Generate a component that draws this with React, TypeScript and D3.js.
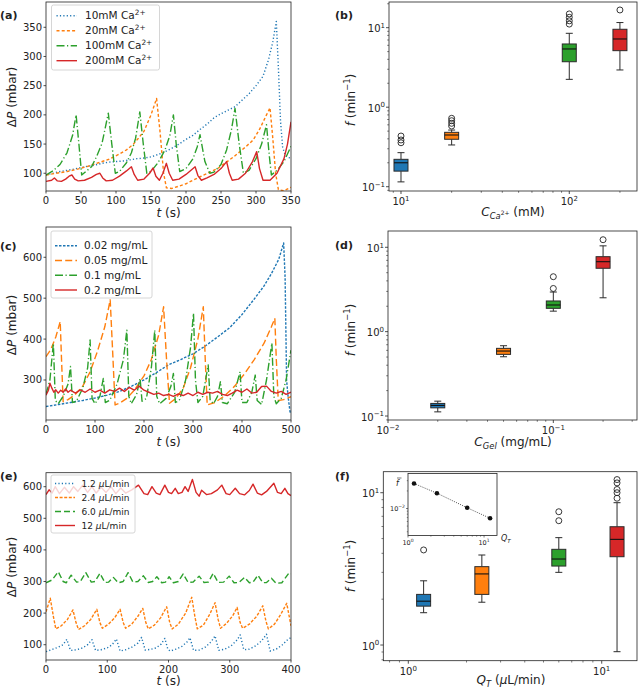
import React from 'react';
import * as d3 from 'd3';

type P = [number, number];
type Seg = { t: string; i?: boolean; sup?: boolean; sub?: boolean; ss?: boolean };

const COLORS = ['#1f77b4', '#ff7f0e', '#2ca02c', '#d62728'];
const FONT = 'DejaVu Sans, Verdana, sans-serif';
const INK = '#222';

// ---------- Panel (a): pressure vs time, Ca2+ concentration ----------
const aLabels = ['10mM', '20mM', '100mM', '200mM'];
const aTicksX = [0, 50, 100, 150, 200, 250, 300, 350];
const aTicksY = [100, 150, 200, 250, 300, 350];
const a10: P[] = [[0,97],[10,100],[20,103],[30,105],[40,107],[50,110],[60,112],[70,114],[80,117],[90,119],[100,120],[110,121],[120,123],[130,125],[140,126],[150,128],[160,132],[170,137],[180,143],[190,150],[200,158],[210,165],[220,175],[230,184],[240,195],[250,202],[260,208],[270,214],[280,225],[290,236],[300,250],[310,266],[318,295],[324,325],[329,360],[332,280],[335,190],[338,145],[342,130],[346,127],[350,126]];
const a20: P[] = [[0,97],[15,100],[30,103],[45,107],[60,112],[75,118],[90,124],[105,133],[115,140],[125,150],[132,160],[140,172],[150,200],[158,228],[163,170],[168,100],[172,75],[180,74],[200,82],[220,94],[245,108],[268,128],[285,145],[296,157],[305,175],[315,200],[320,212],[324,160],[328,100],[332,72],[340,70],[350,76]];
const a100: P[] = [[0,97],[10,104],[20,115],[30,135],[38,165],[43,200],[47,150],[51,97],[57,103],[65,111],[72,128],[80,151],[84,174],[89,203],[94,150],[99,100],[105,103],[115,118],[122,135],[128,160],[134,205],[139,150],[144,100],[150,103],[160,118],[170,140],[177,165],[182,200],[186,150],[191,103],[200,108],[210,125],[216,145],[220,166],[227,120],[234,100],[240,102],[250,115],[258,140],[265,175],[270,211],[276,150],[282,100],[290,105],[300,125],[308,150],[315,183],[319,130],[322,97],[330,105],[340,120],[350,146]];
const a200: P[] = [[0,86],[8,88],[12,92],[16,87],[22,86],[28,90],[33,95],[37,97],[41,90],[46,87],[55,88],[65,93],[72,98],[77,100],[81,92],[86,87],[95,88],[105,95],[115,104],[122,111],[126,98],[131,88],[140,90],[148,100],[153,109],[157,95],[162,88],[167,100],[172,117],[176,100],[181,88],[190,90],[200,98],[208,106],[213,111],[217,96],[222,88],[230,92],[240,98],[250,108],[258,120],[262,100],[266,88],[275,90],[285,100],[295,120],[301,137],[305,108],[310,88],[320,88],[330,100],[340,125],[345,150],[350,188]];

// ---------- Panel (b): frequency vs Ca2+ ----------
const bPos = [10, 20, 100, 200];
const bQ1 = [0.157, 0.395, 3.73, 5.14];
const bMed = [0.200, 0.447, 5.40, 7.21];
const bQ3 = [0.221, 0.483, 6.24, 9.55];
const bLo = [0.115, 0.335, 2.24, 2.94];
const bHi = [0.268, 0.516, 8.5, 11.6];
const bOut = [[0.434, 0.387, 0.357], [0.725, 0.676, 0.627, 0.58], [14.9, 13.5, 12.2, 11.1], [16.7]];

// ---------- Panel (c): pressure vs time, gel concentration ----------
const cLabels = ['0.02 mg/mL', '0.05 mg/mL', '0.1 mg/mL', '0.2 mg/mL'];
const cTicksX = [0, 100, 200, 300, 400, 500];
const cTicksY = [300, 400, 500, 600];
const c002: P[] = [[0,235],[25,240],[50,245],[75,250],[100,256],[125,263],[150,272],[175,285],[200,300],[225,318],[250,337],[275,350],[300,364],[325,383],[350,405],[375,428],[400,460],[425,498],[445,530],[460,560],[475,595],[485,635],[488,550],[491,300],[494,260],[498,222],[500,220]];
const c005: P[] = [[0,357],[10,375],[20,405],[29,443],[32,340],[35,247],[45,252],[60,265],[75,285],[90,320],[105,370],[120,430],[131,496],[136,370],[141,239],[150,243],[165,255],[180,275],[200,310],[215,350],[230,410],[240,479],[246,350],[252,243],[265,255],[280,280],[295,330],[310,400],[321,479],[325,350],[329,239],[345,245],[365,262],[385,285],[405,315],[425,350],[445,390],[460,430],[467,451],[470,350],[474,250],[485,252],[500,259]];
const c01: P[] = [[0,265],[8,300],[15,390],[19,250],[25,242],[35,260],[45,290],[50,333],[54,245],[62,248],[75,280],[85,330],[90,398],[94,255],[100,242],[110,260],[117,304],[121,245],[130,250],[145,290],[158,350],[165,422],[169,260],[174,242],[185,265],[192,304],[196,248],[205,255],[215,330],[222,422],[226,260],[232,242],[245,255],[255,285],[260,316],[264,245],[272,250],[285,300],[295,380],[301,463],[305,300],[310,245],[320,260],[331,337],[335,250],[342,242],[350,260],[356,296],[360,245],[370,242],[385,270],[396,320],[400,245],[410,245],[420,270],[427,312],[431,250],[440,240],[450,300],[461,390],[465,260],[470,242],[480,255],[490,300],[500,373]];
const c02: P[] = [[0,263],[5,275],[8,292],[12,280],[16,270],[20,276],[25,268],[30,275],[35,270],[40,278],[45,270],[50,275],[60,268],[70,276],[80,270],[90,278],[100,270],[110,275],[120,268],[130,276],[140,272],[150,280],[160,272],[170,282],[180,275],[190,285],[200,275],[210,270],[220,265],[230,268],[240,262],[250,265],[260,260],[270,266],[280,262],[290,268],[300,262],[310,270],[320,265],[330,270],[340,268],[350,272],[360,265],[370,262],[380,268],[390,275],[400,270],[410,278],[420,268],[430,270],[440,284],[450,285],[460,272],[470,268],[480,272],[490,265],[500,270]];

// ---------- Panel (d): frequency vs gel ----------
const dPos = [0.02, 0.05, 0.1, 0.2];
const dQ1 = [0.125, 0.538, 1.89, 5.64];
const dMed = [0.1335, 0.589, 2.07, 6.75];
const dQ3 = [0.141, 0.634, 2.31, 7.74];
const dLo = [0.112, 0.504, 1.75, 2.52];
const dHi = [0.150, 0.681, 2.95, 10.4];
const dOut = [[], [], [4.48, 3.25], [12.3]];

// ---------- Panel (e): pressure vs time, flow rate ----------
const eLabels = ['1.2', '2.4', '6.0', '12'];
const eTicksX = [0, 100, 200, 300, 400];
const eTicksY = [100, 200, 300, 400, 500, 600];
const e12: P[] = [[0,78],[10,85],[20,92],[28,100],[34,117],[40,82],[50,84],[60,90],[68,100],[75,116],[81,82],[90,84],[100,90],[108,100],[115,118],[121,80],[130,84],[140,92],[150,105],[156,123],[162,83],[170,85],[180,90],[188,102],[194,120],[199,85],[203,80],[212,86],[222,95],[230,108],[235,122],[241,82],[250,83],[260,92],[270,110],[276,128],[282,82],[292,86],[302,96],[312,115],[317,131],[323,84],[332,86],[342,96],[352,112],[360,133],[366,80],[376,86],[386,100],[394,115],[400,123]];
const e24: P[] = [[0,204],[7,247],[12,190],[16,150],[25,160],[35,180],[44,210],[49,170],[53,148],[63,160],[73,180],[83,212],[88,170],[92,152],[102,165],[112,185],[121,212],[126,170],[130,152],[140,165],[150,190],[158,215],[163,170],[167,150],[177,162],[187,185],[197,220],[202,170],[206,150],[216,165],[228,200],[238,250],[243,190],[247,150],[257,162],[267,195],[276,233],[281,180],[285,152],[295,168],[305,192],[312,218],[317,170],[321,152],[332,165],[344,190],[354,223],[359,175],[363,150],[373,165],[383,195],[393,231],[400,160]];
const e60: P[] = [[0,296],[10,305],[20,331],[28,300],[33,296],[41,320],[50,298],[56,300],[65,328],[74,298],[80,300],[88,326],[96,297],[102,298],[110,313],[118,296],[126,300],[134,328],[142,298],[150,300],[159,318],[167,297],[174,300],[181,315],[189,296],[195,298],[201,315],[208,296],[216,300],[224,324],[232,297],[240,298],[250,317],[258,297],[265,298],[273,326],[281,297],[290,298],[299,317],[307,296],[315,297],[324,313],[332,296],[338,298],[346,320],[354,296],[360,297],[368,310],[376,294],[385,296],[397,328],[400,325]];
const e120: P[] = [[0,575],[5,590],[10,580],[15,600],[22,578],[30,598],[38,580],[45,600],[52,585],[60,605],[68,582],[75,600],[82,580],[90,598],[98,582],[106,600],[114,578],[122,596],[130,580],[140,590],[151,605],[160,578],[166,575],[173,600],[180,580],[186,575],[194,605],[200,582],[205,578],[211,595],[216,578],[222,582],[227,600],[232,585],[239,623],[245,582],[250,570],[254,589],[262,575],[270,578],[280,590],[287,605],[294,578],[300,575],[309,595],[316,578],[324,574],[332,588],[338,608],[345,580],[352,574],[360,585],[372,611],[378,582],[384,578],[390,595],[395,578],[400,572]];

// ---------- Panel (f): frequency vs flow rate ----------
const fPos = [1.2, 2.4, 6.0, 12];
const fQ1 = [1.80, 2.15, 3.30, 3.80];
const fMed = [1.94, 2.93, 3.67, 4.94];
const fQ3 = [2.15, 3.27, 4.25, 5.98];
const fLo = [1.63, 1.91, 3.0, 0.904];
const fHi = [2.64, 3.90, 5.07, 8.6];
const fOut = [[4.21], [], [7.5, 6.55], [12.2, 11.6, 10.5, 10.0, 9.2]];
// inset: mean normalised frequency
const insetQ = [1.2, 2.4, 6.0, 12];
const insetF = [0.0268, 0.0183, 0.0103, 0.0068];

// ---------- helpers ----------
function rich(segs: Seg[], size: number) {
  let cur = 0;
  return segs.map((s, k) => {
    const target = s.sup ? -size * 0.42 : s.sub ? size * 0.25 : s.ss ? -size * 0.06 : 0;
    const dy = target - cur;
    cur = target;
    const fz = s.sup || s.sub ? size * 0.7 : s.ss ? size * 0.5 : undefined;
    return (
      <tspan key={k} dy={dy !== 0 ? dy : undefined} fontStyle={s.i ? 'italic' : undefined}
        fontSize={fz}>{s.t}</tspan>
    );
  });
}

function pow10Label(e: number): Seg[] {
  return [{ t: '10' }, { t: e < 0 ? '\u2212' + Math.abs(e) : String(e), sup: true }];
}

type Frame = { x0: number; x1: number; y0: number; y1: number };

type Series = { data: P[]; color: string; dash?: string; label: Seg[] };

function LinePanel(props: {
  id: string; f: Frame; xd: [number, number]; yd: [number, number]; xt: number[]; yt: number[];
  series: Series[]; leg: { x: number; y: number; w: number; h: number; rows: number[]; fs: number; hx0: number; hx1: number; tx: number };
  tag: string; tagY: number; xlabY: number; ylabCy: number;
}) {
  const { id, f, xd, yd, xt, yt, series, leg } = props;
  const x = d3.scaleLinear().domain(xd).range([f.x0, f.x1]);
  const y = d3.scaleLinear().domain(yd).range([f.y1, f.y0]);
  const line = d3.line<P>().x(d => x(d[0])).y(d => y(d[1]));
  const fs = 10;
  return (
    <g>
      <defs>
        <clipPath id={id}><rect x={f.x0} y={f.y0} width={f.x1 - f.x0} height={f.y1 - f.y0} /></clipPath>
      </defs>
      <g clipPath={`url(#${id})`}>
        {series.map((s, k) => (
          <path key={k} d={line(s.data) || ''} fill="none" stroke={s.color} strokeWidth={1.4}
            strokeDasharray={s.dash} strokeLinejoin="round" />
        ))}
      </g>
      {/* legend */}
      <rect x={leg.x} y={leg.y} width={leg.w} height={leg.h} rx={2} fill="#fff" fillOpacity={0.8} stroke="#ccc" strokeWidth={0.8} />
      {series.map((s, k) => (
        <g key={k}>
          <line x1={leg.hx0} x2={leg.hx1} y1={leg.rows[k]} y2={leg.rows[k]} stroke={s.color} strokeWidth={1.4} strokeDasharray={s.dash} />
          <text x={leg.tx} y={leg.rows[k]} dy="0.35em" fontSize={leg.fs} fontFamily={FONT} fill={INK}>{rich(s.label, leg.fs)}</text>
        </g>
      ))}
      <rect x={f.x0} y={f.y0} width={f.x1 - f.x0} height={f.y1 - f.y0} fill="none" stroke={INK} strokeWidth={0.8} />
      {xt.map(v => (
        <g key={'x' + v}>
          <line x1={x(v)} x2={x(v)} y1={f.y1} y2={f.y1 + 2.5} stroke={INK} strokeWidth={0.8} />
          <text x={x(v)} y={f.y1 + 13} fontSize={fs} textAnchor="middle" fontFamily={FONT} fill={INK}>{v}</text>
        </g>
      ))}
      {yt.map(v => (
        <g key={'y' + v}>
          <line x1={f.x0 - 2.5} x2={f.x0} y1={y(v)} y2={y(v)} stroke={INK} strokeWidth={0.8} />
          <text x={f.x0 - 4} y={y(v)} dy="0.35em" fontSize={fs} textAnchor="end" fontFamily={FONT} fill={INK}>{v}</text>
        </g>
      ))}
      <text x={(f.x0 + f.x1) / 2} y={props.xlabY} fontSize={12} textAnchor="middle" fontFamily={FONT} fill={INK}>
        {rich([{ t: 't', i: true }, { t: ' (s)' }], 12)}
      </text>
      <text transform={`translate(16,${props.ylabCy}) rotate(-90)`} fontSize={12} textAnchor="middle" fontFamily={FONT} fill={INK}>
        {rich([{ t: '\u0394' }, { t: 'P', i: true }, { t: ' (mbar)' }], 12)}
      </text>
      <text x={0} y={props.tagY} fontSize={11} fontWeight="bold" fontFamily={FONT} fill={INK}>{props.tag}</text>
    </g>
  );
}

function logTicks(d: [number, number]) {
  const major: number[] = [];
  const minor: number[] = [];
  const lo = Math.floor(Math.log10(d[0]));
  const hi = Math.ceil(Math.log10(d[1]));
  for (let e = lo; e <= hi; e++) {
    for (let k = 1; k <= 9; k++) {
      const v = k * Math.pow(10, e);
      if (v < d[0] * 0.9999 || v > d[1] * 1.0001) continue;
      if (k === 1) major.push(e); else minor.push(v);
    }
  }
  return { major, minor };
}

function BoxPanel(props: {
  f: Frame; xd: [number, number]; yd: [number, number];
  pos: number[]; q1: number[]; med: number[]; q3: number[]; lo: number[]; hi: number[]; out: number[][];
  xlab: Seg[]; xlabX: number; xlabY: number; ylabCy: number; tag: string; tagY: number; bw?: number;
  children?: React.ReactNode;
}) {
  const { f, xd, yd } = props;
  const x = d3.scaleLog().domain(xd).range([f.x0, f.x1]);
  const y = d3.scaleLog().domain(yd).range([f.y1, f.y0]);
  const xt = logTicks(xd);
  const yt = logTicks(yd);
  const bw = props.bw ?? 14;
  const fs = 10;
  return (
    <g>
      {props.pos.map((p, k) => {
        const cx = x(p);
        return (
          <g key={k} stroke="#2b2b2b" strokeWidth={1}>
            <line x1={cx} x2={cx} y1={y(props.q3[k])} y2={y(props.hi[k])} />
            <line x1={cx} x2={cx} y1={y(props.q1[k])} y2={y(props.lo[k])} />
            <line x1={cx - bw / 4} x2={cx + bw / 4} y1={y(props.hi[k])} y2={y(props.hi[k])} />
            <line x1={cx - bw / 4} x2={cx + bw / 4} y1={y(props.lo[k])} y2={y(props.lo[k])} />
            <rect x={cx - bw / 2} y={y(props.q3[k])} width={bw} height={y(props.q1[k]) - y(props.q3[k])} fill={COLORS[k]} />
            <line x1={cx - bw / 2} x2={cx + bw / 2} y1={y(props.med[k])} y2={y(props.med[k])} stroke="#111" strokeWidth={1.1} />
            {props.out[k].map((o, j) => (
              <circle key={j} cx={cx} cy={y(o)} r={3} fill="none" stroke="#222" strokeWidth={0.9} />
            ))}
          </g>
        );
      })}
      <rect x={f.x0} y={f.y0} width={f.x1 - f.x0} height={f.y1 - f.y0} fill="none" stroke={INK} strokeWidth={0.8} />
      {xt.major.map(e => (
        <g key={'xm' + e}>
          <line x1={x(Math.pow(10, e))} x2={x(Math.pow(10, e))} y1={f.y1} y2={f.y1 + 3} stroke={INK} strokeWidth={0.8} />
          <text x={x(Math.pow(10, e))} y={f.y1 + 14} fontSize={fs} textAnchor="middle" fontFamily={FONT} fill={INK}>{rich(pow10Label(e), fs)}</text>
        </g>
      ))}
      {xt.minor.map(v => (
        <line key={'xn' + v} x1={x(v)} x2={x(v)} y1={f.y1} y2={f.y1 + 1.8} stroke={INK} strokeWidth={0.6} />
      ))}
      {yt.major.map(e => (
        <g key={'ym' + e}>
          <line x1={f.x0 - 3} x2={f.x0} y1={y(Math.pow(10, e))} y2={y(Math.pow(10, e))} stroke={INK} strokeWidth={0.8} />
          <text x={f.x0 - 4} y={y(Math.pow(10, e))} dy="0.45em" fontSize={fs} textAnchor="end" fontFamily={FONT} fill={INK}>{rich(pow10Label(e), fs)}</text>
        </g>
      ))}
      {yt.minor.map(v => (
        <line key={'yn' + v} x1={f.x0 - 1.8} x2={f.x0} y1={y(v)} y2={y(v)} stroke={INK} strokeWidth={0.6} />
      ))}
      <text x={props.xlabX} y={props.xlabY} fontSize={12} textAnchor="middle" fontFamily={FONT} fill={INK}>{rich(props.xlab, 12)}</text>
      <text transform={`translate(355,${props.ylabCy}) rotate(-90)`} fontSize={12} textAnchor="middle" fontFamily={FONT} fill={INK}>
        {rich([{ t: 'f', i: true }, { t: ' (min' }, { t: '\u22121', sup: true }, { t: ')' }], 12)}
      </text>
      <text x={335} y={props.tagY} fontSize={11} fontWeight="bold" fontFamily={FONT} fill={INK}>{props.tag}</text>
      {props.children}
    </g>
  );
}

function Inset() {
  const f: Frame = { x0: 408, x1: 497, y0: 473.5, y1: 535.5 };
  const xd: [number, number] = [1, 14.8];
  const yd: [number, number] = [0.00345, 0.0398];
  const x = d3.scaleLog().domain(xd).range([f.x0, f.x1]);
  const y = d3.scaleLog().domain(yd).range([f.y1, f.y0]);
  const xt = logTicks(xd);
  const yt = logTicks(yd);
  const pts = insetQ.map((q, k) => [q, insetF[k]] as P);
  const line = d3.line<P>().x(d => x(d[0])).y(d => y(d[1]));
  const fs = 6.5;
  return (
    <g>
      <rect x={f.x0} y={f.y0} width={f.x1 - f.x0} height={f.y1 - f.y0} fill="#fff" stroke={INK} strokeWidth={0.8} />
      <path d={line(pts) || ''} fill="none" stroke="#222" strokeWidth={0.8} strokeDasharray="1,1.3" />
      {pts.map((p, k) => <circle key={k} cx={x(p[0])} cy={y(p[1])} r={2.3} fill="#111" />)}
      {xt.major.map(e => (
        <g key={'m' + e}>
          <line x1={x(Math.pow(10, e))} x2={x(Math.pow(10, e))} y1={f.y1} y2={f.y1 + 2} stroke={INK} strokeWidth={0.6} />
          <text x={x(Math.pow(10, e))} y={f.y1 + 9} fontSize={fs} textAnchor="middle" fontFamily={FONT} fill={INK}>{rich(pow10Label(e), fs)}</text>
        </g>
      ))}
      {xt.minor.map(v => <line key={'n' + v} x1={x(v)} x2={x(v)} y1={f.y1} y2={f.y1 + 1.2} stroke={INK} strokeWidth={0.5} />)}
      {yt.major.map(e => (
        <g key={'ym' + e}>
          <line x1={f.x0 - 2} x2={f.x0} y1={y(Math.pow(10, e))} y2={y(Math.pow(10, e))} stroke={INK} strokeWidth={0.6} />
          <text x={f.x0 - 3} y={y(Math.pow(10, e))} dy="0.4em" fontSize={fs} textAnchor="end" fontFamily={FONT} fill={INK}>{rich(pow10Label(e), fs)}</text>
        </g>
      ))}
      {yt.minor.map(v => <line key={'yn' + v} x1={f.x0 - 1.2} x2={f.x0} y1={y(v)} y2={y(v)} stroke={INK} strokeWidth={0.5} />)}
      <text x={396} y={486} fontSize={8} fontStyle="italic" fontFamily={FONT} fill={INK}>f</text>
      <line x1={397} x2={401.5} y1={478} y2={478} stroke={INK} strokeWidth={0.6} />
      <text x={501} y={541} fontSize={8} fontFamily={FONT} fill={INK}>{rich([{ t: 'Q', i: true }, { t: 'T', i: true, sub: true }], 8)}</text>
    </g>
  );
}

export default function App() {
  const caSeg = (l: string): Seg[] => [{ t: l + ' Ca' }, { t: '2+', sup: true }];
  const qSeg = (l: string): Seg[] => [{ t: l + ' ' }, { t: '\u03bc', i: true }, { t: 'L/min' }];
  const aSeries: Series[] = [
    { data: a10, color: COLORS[0], dash: '1.2,2.2', label: caSeg(aLabels[0]) },
    { data: a20, color: COLORS[1], dash: '3,2.2', label: caSeg(aLabels[1]) },
    { data: a100, color: COLORS[2], dash: '8,2.5,1.2,2.5', label: caSeg(aLabels[2]) },
    { data: a200, color: COLORS[3], label: caSeg(aLabels[3]) },
  ];
  const cSeries: Series[] = [
    { data: c002, color: COLORS[0], dash: '2.5,1.5', label: [{ t: cLabels[0] }] },
    { data: c005, color: COLORS[1], dash: '7,3.2', label: [{ t: cLabels[1] }] },
    { data: c01, color: COLORS[2], dash: '8,2.5,1.2,2.5', label: [{ t: cLabels[2] }] },
    { data: c02, color: COLORS[3], label: [{ t: cLabels[3] }] },
  ];
  const eSeries: Series[] = [
    { data: e12, color: COLORS[0], dash: '1.2,2.2', label: qSeg(eLabels[0]) },
    { data: e24, color: COLORS[1], dash: '3,1.6', label: qSeg(eLabels[1]) },
    { data: e60, color: COLORS[2], dash: '6,3', label: qSeg(eLabels[2]) },
    { data: e120, color: COLORS[3], label: qSeg(eLabels[3]) },
  ];
  return (
    <>
      <style>{'body{margin:0}'}</style>
      <svg width={640} height={692} style={{ display: 'block', background: '#fff' }}>
        <LinePanel id="ca" f={{ x0: 46, x1: 291, y0: 2, y1: 191 }} xd={[0, 350]} yd={[69.6, 393.3]} xt={aTicksX} yt={aTicksY}
          series={aSeries} leg={{ x: 51.5, y: 5, w: 108, h: 65, rows: [15.7, 30.7, 45.7, 60.7], fs: 10.5, hx0: 56.5, hx1: 77, tx: 85 }}
          tag="(a)" tagY={19} xlabY={217} ylabCy={97} />
        <BoxPanel f={{ x0: 389, x1: 637, y0: 2, y1: 191 }} xd={[8.487, 252.6]} yd={[0.0883, 21.04]}
          pos={bPos} q1={bQ1} med={bMed} q3={bQ3} lo={bLo} hi={bHi} out={bOut}
          xlab={[{ t: 'C', i: true }, { t: 'Ca', i: true, sub: true }, { t: '2+', ss: true }, { t: '  (mM)' }]} xlabX={513} xlabY={216} ylabCy={100} tag="(b)" tagY={19} />
        <LinePanel id="gel" f={{ x0: 46, x1: 291, y0: 227, y1: 420 }} xd={[0, 500]} yd={[202.2, 674]} xt={cTicksX} yt={cTicksY}
          series={cSeries} leg={{ x: 51, y: 231, w: 101, h: 67, rows: [245.7, 260.5, 275.3, 290], fs: 10.5, hx0: 55, hx1: 77, tx: 84 }}
          tag="(c)" tagY={250} xlabY={446} ylabCy={325} />
        <BoxPanel f={{ x0: 388, x1: 637, y0: 231, y1: 420 }} xd={[0.01, 0.3208]} yd={[0.0897, 15.6]}
          pos={dPos} q1={dQ1} med={dMed} q3={dQ3} lo={dLo} hi={dHi} out={dOut}
          xlab={[{ t: 'C', i: true }, { t: 'Gel', i: true, sub: true }, { t: ' (mg/mL)' }]} xlabX={513} xlabY={446} ylabCy={330} tag="(d)" tagY={249} />
        <LinePanel id="q" f={{ x0: 46, x1: 291, y0: 472.7, y1: 660 }} xd={[0, 400]} yd={[51.6, 644.3]} xt={eTicksX} yt={eTicksY}
          series={eSeries} leg={{ x: 51, y: 475, w: 84, h: 58, rows: [483.5, 497.5, 511.5, 525.5], fs: 9, hx0: 55, hx1: 75, tx: 81.5 }}
          tag="(e)" tagY={480} xlabY={685} ylabCy={567} />
        <BoxPanel f={{ x0: 383.3, x1: 637, y0: 471.7, y1: 660.7 }} xd={[0.7425, 15.22]} yd={[0.789, 13.74]}
          pos={fPos} q1={fQ1} med={fMed} q3={fQ3} lo={fLo} hi={fHi} out={fOut}
          xlab={[{ t: 'Q', i: true }, { t: 'T', i: true, sub: true }, { t: ' (' }, { t: '\u03bc', i: true }, { t: 'L/min)' }]} xlabX={511} xlabY={684} ylabCy={566} tag="(f)" tagY={480}>
          <Inset />
        </BoxPanel>
      </svg>
    </>
  );
}
